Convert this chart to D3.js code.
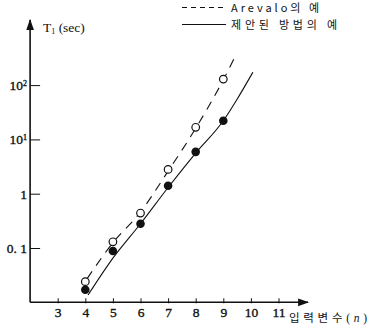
<!DOCTYPE html>
<html>
<head>
<meta charset="utf-8">
<script src="https://cdn.jsdelivr.net/npm/d3@7"></script>
<style>
  body { margin: 0; background: #fff; }
  svg { display: block; }
  .tick text { font-family: "Liberation Serif", "DejaVu Serif", serif; font-size: 13.5px; fill: #111; stroke: #111; stroke-width: 0.35px; }
  .ko { font-family: "Noto Sans CJK KR", sans-serif; fill: #111; }
</style>
</head>
<body>
<svg width="369" height="329"></svg>
<script>
// input count n
const xTicks = [3, 4, 5, 6, 7, 8, 9, 10, 11];
const yTicks = [0.1, 1, 10, 100];
const yTickLabels = [["0. 1", ""], ["1", ""], ["10", "1"], ["10", "2"]];

// measured points, T1 in sec
const nPoints = [4, 5, 6, 7, 8, 9];
const arevaloT = [0.024, 0.13, 0.44, 2.8, 16.7, 129];
const proposedT = [0.017, 0.088, 0.28, 1.4, 5.9, 22];

// drawn trend curves
const arevaloCurveN = [4.06, 5, 6, 7, 8, 9, 9.45];
const arevaloCurveT = [0.027, 0.125, 0.46, 2.6, 16, 125, 355];
const proposedCurveN = [4.1, 5, 6, 7, 8, 9, 9.5, 10.07];
const proposedCurveT = [0.0136, 0.065, 0.28, 1.3, 5.6, 22, 55, 172];

const seriesNames = ["Arevalo의 예", "제안된 방법의 예"];

const svg = d3.select('svg');

const x = d3.scaleLinear().domain([2, 11]).range([30.1, 278.5]);
const y = d3.scaleLog().domain([0.01, 100]).range([302.3, 85.1]);

const x0 = x(2), y0 = y(0.01);

// arrow marker
svg.append('defs').append('marker')
    .attr('id', 'arrow')
    .attr('viewBox', '0 0 10 10')
    .attr('refX', 9).attr('refY', 5)
    .attr('markerWidth', 11).attr('markerHeight', 11)
    .attr('markerUnits', 'userSpaceOnUse')
    .attr('orient', 'auto')
    .append('path')
    .attr('d', 'M0,1.5 L10,5 L0,8.5 Z')
    .attr('fill', '#111');

// axes lines with arrows
svg.append('line')
    .attr('x1', x0).attr('y1', y0).attr('x2', x0).attr('y2', 20)
    .attr('stroke', '#111').attr('stroke-width', 1.6)
    .attr('marker-end', 'url(#arrow)');
svg.append('line')
    .attr('x1', x0).attr('y1', y0).attr('x2', 308).attr('y2', y0)
    .attr('stroke', '#111').attr('stroke-width', 1.6)
    .attr('marker-end', 'url(#arrow)');

// x axis
const gx = svg.append('g')
    .attr('transform', `translate(0,${y0})`)
    .call(d3.axisBottom(x).tickValues(xTicks).tickSizeInner(-4).tickSizeOuter(0).tickPadding(5));
gx.select('.domain').remove();
gx.selectAll('.tick line').attr('stroke', '#111').attr('y2', -4).attr('y1', 1);

// y axis
const gy = svg.append('g')
    .attr('transform', `translate(${x0},0)`)
    .call(d3.axisLeft(y).tickValues(yTicks).tickSizeInner(-10).tickSizeOuter(0).tickPadding(3).tickFormat(''));
gy.select('.domain').remove();
gy.selectAll('.tick line').attr('stroke', '#111');
gy.selectAll('.tick text').each(function (d, i) {
    const t = d3.select(this);
    const lab = yTickLabels[i];
    t.append('tspan').text(lab[0]);
    if (lab[1]) t.append('tspan').attr('font-size', '8px').attr('dy', '-0.5em').text(lab[1]);
});

// axis titles
const tt = svg.append('text')
    .attr('x', 43).attr('y', 32)
    .style('font-family', '"Liberation Serif", serif')
    .style('font-size', '13.5px').style('fill', '#111');
tt.append('tspan').text('T');
tt.append('tspan').attr('font-size', '8px').attr('dy', '2').text('1');
tt.append('tspan').attr('dy', '-2').text(' (sec)');

const xt = svg.append('text')
    .attr('class', 'ko')
    .attr('x', 289).attr('y', 322)
    .attr('textLength', 78).attr('lengthAdjust', 'spacing')
    .style('font-size', '11.5px');
xt.append('tspan').text('입력변수');
xt.append('tspan').style('font-family', '"Liberation Serif", serif').text('(');
xt.append('tspan').style('font-family', '"Liberation Serif", serif').style('font-style', 'italic').text('n');
xt.append('tspan').style('font-family', '"Liberation Serif", serif').text(')');

// curves
const line = d3.line()
    .x(d => x(d[0]))
    .y(d => y(d[1]))
    .curve(d3.curveMonotoneX);

svg.append('path')
    .datum(d3.zip(arevaloCurveN, arevaloCurveT))
    .attr('d', line)
    .attr('fill', 'none').attr('stroke', '#111').attr('stroke-width', 1.1)
    .attr('stroke-dasharray', '9,7');

svg.append('path')
    .datum(d3.zip(proposedCurveN, proposedCurveT))
    .attr('d', line)
    .attr('fill', 'none').attr('stroke', '#111').attr('stroke-width', 1.1);

// points
svg.selectAll('.open')
    .data(d3.zip(nPoints, arevaloT))
    .enter().append('circle')
    .attr('class', 'open')
    .attr('cx', d => x(d[0])).attr('cy', d => y(d[1]))
    .attr('r', 3.8)
    .attr('fill', '#fff').attr('stroke', '#111').attr('stroke-width', 1.2);

svg.selectAll('.filled')
    .data(d3.zip(nPoints, proposedT))
    .enter().append('circle')
    .attr('class', 'filled')
    .attr('cx', d => x(d[0])).attr('cy', d => y(d[1]))
    .attr('r', 4.3)
    .attr('fill', '#111');

// legend
const legend = svg.append('g');
legend.append('line')
    .attr('x1', 182).attr('x2', 227).attr('y1', 7.5).attr('y2', 7.5)
    .attr('stroke', '#111').attr('stroke-width', 1.1).attr('stroke-dasharray', '5,4');
legend.append('line')
    .attr('x1', 182).attr('x2', 226).attr('y1', 24.5).attr('y2', 24.5)
    .attr('stroke', '#111').attr('stroke-width', 1.1);
legend.append('text')
    .attr('class', 'ko')
    .attr('x', 231).attr('y', 11.5)
    .attr('textLength', 88).attr('lengthAdjust', 'spacing')
    .style('font-size', '11px')
    .text(seriesNames[0]);
legend.append('text')
    .attr('class', 'ko')
    .attr('x', 231).attr('y', 28.5)
    .attr('textLength', 106).attr('lengthAdjust', 'spacing')
    .style('font-size', '11px')
    .text(seriesNames[1]);
</script>
</body>
</html>
